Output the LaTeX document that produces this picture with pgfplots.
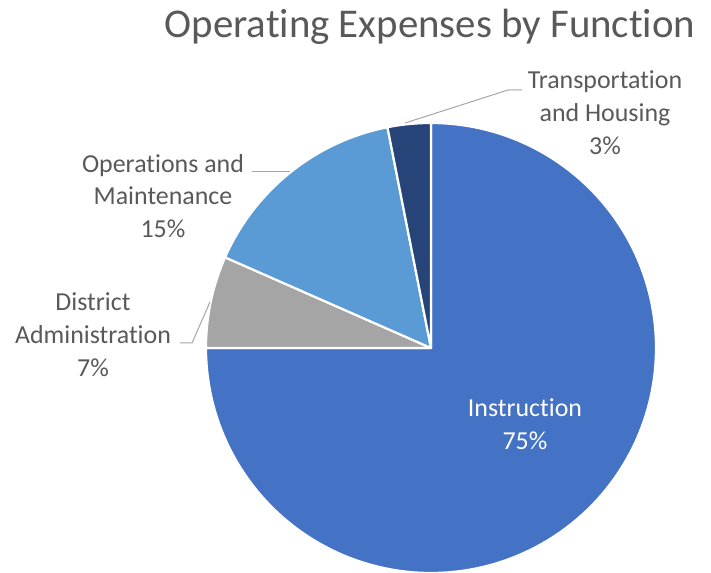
\documentclass[border=0pt]{standalone}
\usepackage{fontspec}
\setmainfont{Carlito}[Ligatures={NoCommon}]
\usepackage{pgfplots}
\pgfplotsset{compat=1.18}
\definecolor{cInst}{HTML}{4472C4}
\definecolor{cDA}{HTML}{A5A5A5}
\definecolor{cOM}{HTML}{5B9BD5}
\definecolor{cTH}{HTML}{264478}
\definecolor{txt}{HTML}{595959}
\definecolor{lead}{HTML}{A6A6A6}
% slice: #1 cumulative percent before, #2 percent, #3 colour
\newcommand\slice[3]{%
  \addplot[fill=#3, draw=white, line width=2.2bp, line join=round,
    domain={90-3.6*(#1+#2)}:{90-3.6*#1}, samples=150]
    ({431+225*cos(x)},{225+225*sin(x)}) -- (axis cs:431,225) -- cycle;}
\begin{document}
\begin{tikzpicture}
\begin{axis}[x=1bp, y=1bp, xmin=0, xmax=711, ymin=0, ymax=573,
  hide axis, clip=false, scale only axis, anchor=origin]
\slice{0}{75.0}{cInst}
\slice{75.0}{6.6}{cDA}
\slice{81.6}{15.3}{cOM}
\slice{96.9}{3.1}{cTH}
% leader lines
\addplot[lead, line width=1bp] coordinates {(405,450) (508,483) (522,483)};
\addplot[lead, line width=1bp] coordinates {(252,401) (290,401)};
\addplot[lead, line width=1bp] coordinates {(180,230) (192,230) (210,271)};
% labels
\node[txt, font=\fontsize{41}{48}\selectfont] at (axis cs:430,546) {Operating Expenses by Function};
\node[txt, align=center, font=\fontsize{26}{33}\selectfont] at (axis cs:605,460) {Transportation\\and Housing\\3\%};
\node[txt, align=center, font=\fontsize{26}{33}\selectfont] at (axis cs:163,377) {Operations and\\Maintenance\\15\%};
\node[txt, align=center, font=\fontsize{26}{33}\selectfont] at (axis cs:93,238) {District\\Administration\\7\%};
\node[white, align=center, font=\fontsize{26}{33}\selectfont] at (axis cs:525,149) {Instruction\\75\%};
\end{axis}
\pgfresetboundingbox
\path (0,0) rectangle (711bp,573bp);
\end{tikzpicture}
\end{document}
